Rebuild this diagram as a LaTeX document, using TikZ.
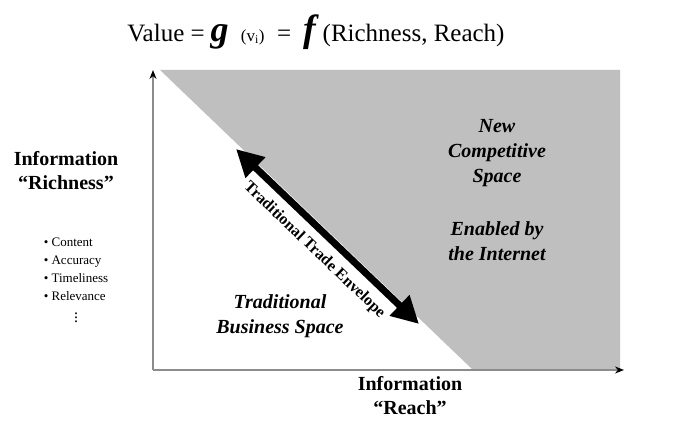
\documentclass[tikz,border=0pt]{standalone}
\usepackage{fontspec}
\setmainfont{Liberation Serif}
\usetikzlibrary{arrows.meta,positioning}

\tikzset{
  region/.style={font=\fontsize{20}{25}\selectfont\bfseries\itshape, align=center},
  axislabel/.style={font=\fontsize{20}{24}\selectfont\bfseries, align=center},
  axisline/.style={draw=black!45, line width=1.2pt, -{Stealth[length=9pt,width=7pt,black]}},
  envelope/.style={line width=7pt, {Triangle[length=27pt,width=27pt]}-{Triangle[length=27pt,width=27pt]}},
}

\begin{document}
\begin{tikzpicture}[x=1pt,y=-1pt]
\useasboundingbox[fill=white] (0,0) rectangle (677,430);

\coordinate (origin) at (153,370);
\coordinate (ytop) at (153,70);
\coordinate (xend) at (624,370);

\fill[black!25] (160,70) -- (620,70) -- (620,369) -- (472,369) -- cycle;

\draw[axisline] (origin) -- (ytop);
\draw[axisline] (origin) -- (xend);

\node (title) at (316,32) {\fontsize{25}{28}\selectfont Value ={\fontsize{36}{36}\selectfont\bfseries\itshape\,g\,} {\fontsize{17}{20}\selectfont(v\textsubscript{i})}\enspace=\enspace{\fontsize{38}{38}\selectfont\bfseries\itshape f\,}(Richness, Reach)};

\coordinate (envstart) at (236,149);
\coordinate (envend) at (419,324);
\draw[envelope] (envstart) -- (envend)
  node[midway, sloped, below=5pt, font=\fontsize{16}{18}\selectfont\bfseries] (envlabel) {Traditional Trade Envelope};

\node[region] (newspace) at (497,153) {New\\Competitive\\Space};
\node[region, below=28pt of newspace] (enabled) {Enabled by\\the Internet};
\node[region] (tradbiz) at (280,316) {Traditional\\Business Space};

\node[axislabel] (richness) at (66,171) {Information\\“Richness”};
\node[font=\fontsize{13}{18}\selectfont, align=left] (attrs) at (76,269) {• Content\\• Accuracy\\• Timeliness\\• Relevance};
\node[below=2pt of attrs, font=\fontsize{16}{18}\selectfont, inner sep=1pt] (more) {$\vdots$};

\node[axislabel] (reach) at (410,396) {Information\\“Reach”};
\end{tikzpicture}
\end{document}
